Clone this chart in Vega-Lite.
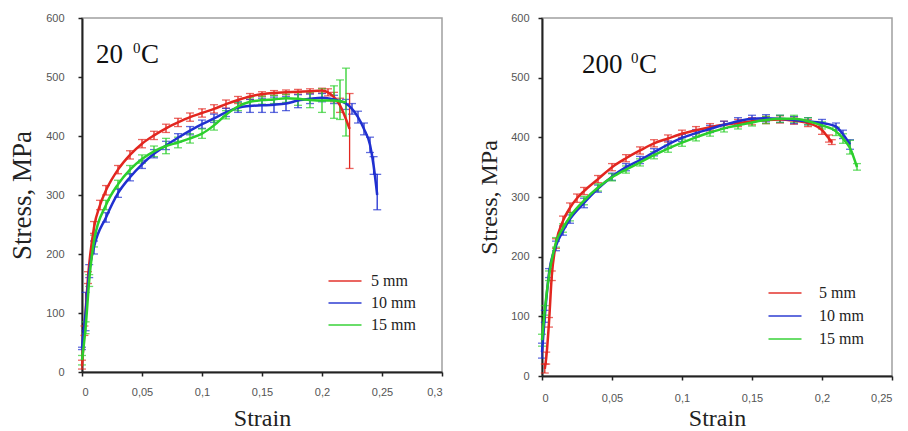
{
  "$schema": "https://vega.github.io/schema/vega-lite/v6.json",
  "autosize": {"type": "pad"},
  "padding": {"left": 7, "top": 11, "right": 5, "bottom": 0},
  "bounds": "flush",
  "spacing": 100,
  "background": "white",
  "config": {
    "view": {"stroke": "#a0a0a0", "strokeWidth": 1.5},
    "axis": {"domainColor": "#222", "domainWidth": 2, "tickColor": "#222", "tickSize": 4, "tickWidth": 1.5, "labelColor": "#555", "labelFontSize": 11, "labelFont": "Liberation Sans", "titleFont": "Liberation Serif", "titleFontSize": 24, "titleFontWeight": "normal", "titleColor": "#222", "grid": false},
    "legend": {"labelFont": "Liberation Serif", "labelFontSize": 16, "labelColor": "#222"}
  },
  "resolve": {"scale": {"color": "independent"}, "legend": {"color": "independent"}},
  "datasets": {
    "t20": [
      {"s":"5 mm","x":0,"y":10,"lo":5,"hi":20},
      {"s":"5 mm","x":0.002,"y":70,"lo":62,"hi":78},
      {"s":"5 mm","x":0.005,"y":160,"lo":150,"hi":170},
      {"s":"5 mm","x":0.01,"y":245,"lo":235,"hi":255},
      {"s":"5 mm","x":0.015,"y":283,"lo":275,"hi":291},
      {"s":"5 mm","x":0.02,"y":308,"lo":300,"hi":316},
      {"s":"5 mm","x":0.03,"y":343,"lo":336,"hi":350},
      {"s":"5 mm","x":0.04,"y":368,"lo":361,"hi":375},
      {"s":"5 mm","x":0.05,"y":387,"lo":380,"hi":394},
      {"s":"5 mm","x":0.06,"y":401,"lo":394,"hi":408},
      {"s":"5 mm","x":0.07,"y":413,"lo":406,"hi":420},
      {"s":"5 mm","x":0.08,"y":423,"lo":416,"hi":430},
      {"s":"5 mm","x":0.09,"y":432,"lo":425,"hi":439},
      {"s":"5 mm","x":0.1,"y":439,"lo":432,"hi":446},
      {"s":"5 mm","x":0.11,"y":446,"lo":439,"hi":453},
      {"s":"5 mm","x":0.12,"y":454,"lo":447,"hi":461},
      {"s":"5 mm","x":0.13,"y":461,"lo":455,"hi":467},
      {"s":"5 mm","x":0.14,"y":467,"lo":462,"hi":472},
      {"s":"5 mm","x":0.15,"y":471,"lo":467,"hi":475},
      {"s":"5 mm","x":0.16,"y":473,"lo":469,"hi":477},
      {"s":"5 mm","x":0.17,"y":474,"lo":470,"hi":478},
      {"s":"5 mm","x":0.18,"y":475,"lo":471,"hi":479},
      {"s":"5 mm","x":0.19,"y":476,"lo":472,"hi":480},
      {"s":"5 mm","x":0.2,"y":477,"lo":473,"hi":481},
      {"s":"5 mm","x":0.205,"y":474,"lo":468,"hi":480},
      {"s":"5 mm","x":0.21,"y":466,"lo":458,"hi":474},
      {"s":"5 mm","x":0.215,"y":452,"lo":440,"hi":464},
      {"s":"5 mm","x":0.223,"y":412,"lo":345,"hi":472},
      {"s":"10 mm","x":0,"y":40,"lo":38,"hi":42},
      {"s":"10 mm","x":0.003,"y":100,"lo":70,"hi":135},
      {"s":"10 mm","x":0.006,"y":170,"lo":160,"hi":182},
      {"s":"10 mm","x":0.01,"y":212,"lo":200,"hi":222},
      {"s":"10 mm","x":0.02,"y":262,"lo":254,"hi":270},
      {"s":"10 mm","x":0.03,"y":303,"lo":296,"hi":310},
      {"s":"10 mm","x":0.04,"y":330,"lo":324,"hi":336},
      {"s":"10 mm","x":0.05,"y":352,"lo":345,"hi":359},
      {"s":"10 mm","x":0.06,"y":370,"lo":363,"hi":377},
      {"s":"10 mm","x":0.07,"y":384,"lo":377,"hi":391},
      {"s":"10 mm","x":0.08,"y":397,"lo":390,"hi":404},
      {"s":"10 mm","x":0.09,"y":409,"lo":402,"hi":416},
      {"s":"10 mm","x":0.1,"y":420,"lo":413,"hi":427},
      {"s":"10 mm","x":0.11,"y":430,"lo":423,"hi":437},
      {"s":"10 mm","x":0.12,"y":440,"lo":433,"hi":447},
      {"s":"10 mm","x":0.13,"y":448,"lo":440,"hi":458},
      {"s":"10 mm","x":0.14,"y":451,"lo":440,"hi":462},
      {"s":"10 mm","x":0.15,"y":452,"lo":440,"hi":464},
      {"s":"10 mm","x":0.16,"y":453,"lo":440,"hi":466},
      {"s":"10 mm","x":0.17,"y":455,"lo":443,"hi":467},
      {"s":"10 mm","x":0.18,"y":460,"lo":448,"hi":470},
      {"s":"10 mm","x":0.19,"y":463,"lo":455,"hi":471},
      {"s":"10 mm","x":0.2,"y":465,"lo":458,"hi":472},
      {"s":"10 mm","x":0.21,"y":462,"lo":455,"hi":469},
      {"s":"10 mm","x":0.22,"y":455,"lo":445,"hi":462},
      {"s":"10 mm","x":0.225,"y":446,"lo":437,"hi":455},
      {"s":"10 mm","x":0.23,"y":432,"lo":422,"hi":442},
      {"s":"10 mm","x":0.235,"y":412,"lo":402,"hi":422},
      {"s":"10 mm","x":0.24,"y":385,"lo":372,"hi":398},
      {"s":"10 mm","x":0.243,"y":350,"lo":335,"hi":365},
      {"s":"10 mm","x":0.246,"y":300,"lo":275,"hi":335},
      {"s":"15 mm","x":0,"y":20,"lo":12,"hi":28},
      {"s":"15 mm","x":0.003,"y":75,"lo":65,"hi":85},
      {"s":"15 mm","x":0.006,"y":155,"lo":145,"hi":165},
      {"s":"15 mm","x":0.01,"y":222,"lo":212,"hi":232},
      {"s":"15 mm","x":0.02,"y":283,"lo":275,"hi":291},
      {"s":"15 mm","x":0.03,"y":318,"lo":311,"hi":325},
      {"s":"15 mm","x":0.04,"y":343,"lo":336,"hi":350},
      {"s":"15 mm","x":0.05,"y":361,"lo":354,"hi":368},
      {"s":"15 mm","x":0.06,"y":374,"lo":365,"hi":383},
      {"s":"15 mm","x":0.07,"y":383,"lo":370,"hi":396},
      {"s":"15 mm","x":0.08,"y":389,"lo":380,"hi":398},
      {"s":"15 mm","x":0.09,"y":396,"lo":388,"hi":404},
      {"s":"15 mm","x":0.1,"y":404,"lo":396,"hi":412},
      {"s":"15 mm","x":0.11,"y":418,"lo":410,"hi":426},
      {"s":"15 mm","x":0.12,"y":436,"lo":429,"hi":443},
      {"s":"15 mm","x":0.13,"y":450,"lo":443,"hi":457},
      {"s":"15 mm","x":0.14,"y":458,"lo":451,"hi":465},
      {"s":"15 mm","x":0.15,"y":461,"lo":454,"hi":468},
      {"s":"15 mm","x":0.16,"y":462,"lo":455,"hi":469},
      {"s":"15 mm","x":0.17,"y":464,"lo":457,"hi":471},
      {"s":"15 mm","x":0.18,"y":463,"lo":452,"hi":474},
      {"s":"15 mm","x":0.19,"y":461,"lo":448,"hi":474},
      {"s":"15 mm","x":0.2,"y":460,"lo":440,"hi":480},
      {"s":"15 mm","x":0.21,"y":460,"lo":430,"hi":485},
      {"s":"15 mm","x":0.215,"y":459,"lo":428,"hi":495},
      {"s":"15 mm","x":0.22,"y":457,"lo":400,"hi":515}
    ],
    "t200": [
      {"s":"5 mm","x":0.002,"y":12,"lo":5,"hi":20},
      {"s":"5 mm","x":0.003,"y":30,"lo":20,"hi":40},
      {"s":"5 mm","x":0.005,"y":90,"lo":82,"hi":98},
      {"s":"5 mm","x":0.007,"y":168,"lo":160,"hi":176},
      {"s":"5 mm","x":0.01,"y":222,"lo":214,"hi":230},
      {"s":"5 mm","x":0.015,"y":260,"lo":252,"hi":268},
      {"s":"5 mm","x":0.02,"y":282,"lo":274,"hi":290},
      {"s":"5 mm","x":0.025,"y":298,"lo":291,"hi":305},
      {"s":"5 mm","x":0.03,"y":310,"lo":304,"hi":316},
      {"s":"5 mm","x":0.04,"y":330,"lo":324,"hi":336},
      {"s":"5 mm","x":0.05,"y":350,"lo":344,"hi":356},
      {"s":"5 mm","x":0.06,"y":365,"lo":359,"hi":371},
      {"s":"5 mm","x":0.07,"y":378,"lo":372,"hi":384},
      {"s":"5 mm","x":0.08,"y":390,"lo":384,"hi":396},
      {"s":"5 mm","x":0.09,"y":398,"lo":392,"hi":404},
      {"s":"5 mm","x":0.1,"y":406,"lo":400,"hi":412},
      {"s":"5 mm","x":0.11,"y":412,"lo":406,"hi":418},
      {"s":"5 mm","x":0.12,"y":417,"lo":411,"hi":423},
      {"s":"5 mm","x":0.13,"y":421,"lo":415,"hi":427},
      {"s":"5 mm","x":0.14,"y":424,"lo":418,"hi":430},
      {"s":"5 mm","x":0.15,"y":427,"lo":421,"hi":433},
      {"s":"5 mm","x":0.16,"y":429,"lo":423,"hi":435},
      {"s":"5 mm","x":0.17,"y":430,"lo":424,"hi":436},
      {"s":"5 mm","x":0.18,"y":428,"lo":422,"hi":434},
      {"s":"5 mm","x":0.19,"y":424,"lo":418,"hi":430},
      {"s":"5 mm","x":0.2,"y":412,"lo":405,"hi":419},
      {"s":"5 mm","x":0.205,"y":398,"lo":392,"hi":404},
      {"s":"5 mm","x":0.207,"y":392,"lo":388,"hi":396},
      {"s":"10 mm","x":0,"y":40,"lo":30,"hi":55},
      {"s":"10 mm","x":0.002,"y":100,"lo":90,"hi":110},
      {"s":"10 mm","x":0.005,"y":172,"lo":165,"hi":180},
      {"s":"10 mm","x":0.01,"y":218,"lo":210,"hi":226},
      {"s":"10 mm","x":0.015,"y":243,"lo":236,"hi":250},
      {"s":"10 mm","x":0.02,"y":263,"lo":256,"hi":270},
      {"s":"10 mm","x":0.03,"y":290,"lo":282,"hi":298},
      {"s":"10 mm","x":0.04,"y":314,"lo":308,"hi":320},
      {"s":"10 mm","x":0.05,"y":334,"lo":328,"hi":340},
      {"s":"10 mm","x":0.06,"y":350,"lo":344,"hi":356},
      {"s":"10 mm","x":0.07,"y":362,"lo":356,"hi":368},
      {"s":"10 mm","x":0.08,"y":375,"lo":369,"hi":381},
      {"s":"10 mm","x":0.09,"y":388,"lo":382,"hi":394},
      {"s":"10 mm","x":0.1,"y":399,"lo":393,"hi":405},
      {"s":"10 mm","x":0.11,"y":407,"lo":401,"hi":413},
      {"s":"10 mm","x":0.12,"y":414,"lo":408,"hi":420},
      {"s":"10 mm","x":0.13,"y":421,"lo":415,"hi":427},
      {"s":"10 mm","x":0.14,"y":427,"lo":421,"hi":433},
      {"s":"10 mm","x":0.15,"y":431,"lo":425,"hi":437},
      {"s":"10 mm","x":0.16,"y":432,"lo":426,"hi":438},
      {"s":"10 mm","x":0.17,"y":431,"lo":425,"hi":437},
      {"s":"10 mm","x":0.18,"y":429,"lo":423,"hi":435},
      {"s":"10 mm","x":0.19,"y":427,"lo":421,"hi":433},
      {"s":"10 mm","x":0.2,"y":424,"lo":418,"hi":430},
      {"s":"10 mm","x":0.21,"y":418,"lo":412,"hi":424},
      {"s":"10 mm","x":0.215,"y":405,"lo":398,"hi":412},
      {"s":"10 mm","x":0.22,"y":388,"lo":380,"hi":396},
      {"s":"15 mm","x":0,"y":60,"lo":50,"hi":70},
      {"s":"15 mm","x":0.002,"y":110,"lo":102,"hi":118},
      {"s":"15 mm","x":0.005,"y":168,"lo":160,"hi":176},
      {"s":"15 mm","x":0.01,"y":224,"lo":216,"hi":232},
      {"s":"15 mm","x":0.015,"y":248,"lo":241,"hi":255},
      {"s":"15 mm","x":0.02,"y":267,"lo":260,"hi":274},
      {"s":"15 mm","x":0.03,"y":294,"lo":287,"hi":301},
      {"s":"15 mm","x":0.04,"y":316,"lo":310,"hi":322},
      {"s":"15 mm","x":0.05,"y":333,"lo":327,"hi":339},
      {"s":"15 mm","x":0.06,"y":346,"lo":340,"hi":352},
      {"s":"15 mm","x":0.07,"y":358,"lo":352,"hi":364},
      {"s":"15 mm","x":0.08,"y":370,"lo":364,"hi":376},
      {"s":"15 mm","x":0.09,"y":381,"lo":375,"hi":387},
      {"s":"15 mm","x":0.1,"y":391,"lo":385,"hi":397},
      {"s":"15 mm","x":0.11,"y":400,"lo":394,"hi":406},
      {"s":"15 mm","x":0.12,"y":408,"lo":402,"hi":414},
      {"s":"15 mm","x":0.13,"y":415,"lo":409,"hi":421},
      {"s":"15 mm","x":0.14,"y":420,"lo":414,"hi":426},
      {"s":"15 mm","x":0.15,"y":425,"lo":419,"hi":431},
      {"s":"15 mm","x":0.16,"y":429,"lo":423,"hi":435},
      {"s":"15 mm","x":0.17,"y":431,"lo":425,"hi":437},
      {"s":"15 mm","x":0.18,"y":431,"lo":425,"hi":437},
      {"s":"15 mm","x":0.19,"y":427,"lo":421,"hi":433},
      {"s":"15 mm","x":0.2,"y":420,"lo":414,"hi":426},
      {"s":"15 mm","x":0.21,"y":410,"lo":403,"hi":417},
      {"s":"15 mm","x":0.215,"y":398,"lo":390,"hi":406},
      {"s":"15 mm","x":0.22,"y":382,"lo":372,"hi":395},
      {"s":"15 mm","x":0.225,"y":350,"lo":345,"hi":356}
    ]
  },
  "hconcat": [
    {
      "width": 360,
      "height": 354,
      "layer": [
        {
          "data": {"name": "t20"},
          "mark": {"type": "errorbar", "ticks": {"size": 8}, "thickness": 1.3},
          "encoding": {
            "x": {"field": "x", "type": "quantitative", "scale": {"domain": [0, 0.3], "nice": false}, "title": "Strain"},
            "y": {"field": "lo", "type": "quantitative", "scale": {"domain": [0, 600], "nice": false}, "title": "Stress, MPa"},
            "y2": {"field": "hi"},
            "color": {"field": "s", "type": "nominal", "scale": {"domain": ["5 mm", "10 mm", "15 mm"], "range": ["#e2261f", "#2030d0", "#2ccf2c"]},
              "legend": {"orient": "none", "legendX": 251, "legendY": 251, "title": null, "symbolType": "M-1.5,0H1.5", "symbolSize": 484, "symbolStrokeWidth": 2, "labelFont": "Liberation Serif", "labelFontSize": 16, "labelColor": "#222", "labelOffset": 14, "rowPadding": 2}}
          }
        },
        {
          "data": {"name": "t20"},
          "mark": {"type": "line", "strokeWidth": 2.5, "interpolate": "monotone"},
          "encoding": {
            "x": {"field": "x", "type": "quantitative", "scale": {"domain": [0, 0.3], "nice": false}, "title": "Strain",
              "axis": {"values": [0, 0.05, 0.1, 0.15, 0.2, 0.25, 0.3], "format": ".2~f", "labelExpr": "replace(datum.label, '.', ',')", "labelPadding": 10, "titlePadding": 9, "titleFontSize": 24}},
            "y": {"field": "y", "type": "quantitative", "scale": {"domain": [0, 600], "nice": false}, "title": "Stress, MPa",
              "axis": {"values": [0, 100, 200, 300, 400, 500, 600], "labelPadding": 14, "titlePadding": 9, "titleFontSize": 27}},
            "color": {"field": "s", "type": "nominal", "scale": {"domain": ["5 mm", "10 mm", "15 mm"], "range": ["#e2261f", "#2030d0", "#2ccf2c"]},
              "legend": {"orient": "none", "legendX": 251, "legendY": 251, "title": null, "symbolType": "M-1.5,0H1.5", "symbolSize": 484, "symbolStrokeWidth": 2, "labelFont": "Liberation Serif", "labelFontSize": 16, "labelColor": "#222", "labelOffset": 14, "rowPadding": 2}}
          }
        },
        {
          "data": {"values": [{"x": 0.0117, "y": 524, "a": "20", "b": "0", "c": "C"}]},
          "encoding": {
            "x": {"field": "x", "type": "quantitative"},
            "y": {"field": "y", "type": "quantitative"}
          },
          "layer": [
            {"mark": {"type": "text", "font": "Liberation Serif", "fontSize": 27, "align": "left", "baseline": "alphabetic", "color": "#111"}, "encoding": {"text": {"field": "a"}}},
            {"mark": {"type": "text", "font": "Liberation Serif", "fontSize": 15, "align": "left", "baseline": "alphabetic", "color": "#111", "dx": 37, "dy": -10}, "encoding": {"text": {"field": "b"}}},
            {"mark": {"type": "text", "font": "Liberation Serif", "fontSize": 27, "align": "left", "baseline": "alphabetic", "color": "#111", "dx": 45}, "encoding": {"text": {"field": "c"}}}
          ]
        }
      ]
    },
    {
      "width": 350,
      "height": 358,
      "layer": [
        {
          "data": {"name": "t200"},
          "mark": {"type": "errorbar", "ticks": {"size": 8}, "thickness": 1.3},
          "encoding": {
            "x": {"field": "x", "type": "quantitative", "scale": {"domain": [0, 0.25], "nice": false}, "title": "Strain"},
            "y": {"field": "lo", "type": "quantitative", "scale": {"domain": [0, 600], "nice": false}, "title": "Stress, MPa"},
            "y2": {"field": "hi"},
            "color": {"field": "s", "type": "nominal", "scale": {"domain": ["5 mm", "10 mm", "15 mm"], "range": ["#e2261f", "#2030d0", "#2ccf2c"]},
              "legend": {"orient": "none", "legendX": 231, "legendY": 263, "title": null, "symbolType": "M-1.5,0H1.5", "symbolSize": 484, "symbolStrokeWidth": 2, "labelFont": "Liberation Serif", "labelFontSize": 16, "labelColor": "#222", "labelOffset": 22, "rowPadding": 3}}
          }
        },
        {
          "data": {"name": "t200"},
          "mark": {"type": "line", "strokeWidth": 2.5, "interpolate": "monotone"},
          "encoding": {
            "x": {"field": "x", "type": "quantitative", "scale": {"domain": [0, 0.25], "nice": false}, "title": "Strain",
              "axis": {"values": [0, 0.05, 0.1, 0.15, 0.2, 0.25], "format": ".2~f", "labelExpr": "replace(datum.label, '.', ',')", "labelPadding": 12, "titlePadding": 3, "titleFontSize": 24}},
            "y": {"field": "y", "type": "quantitative", "scale": {"domain": [0, 600], "nice": false}, "title": "Stress, MPa",
              "axis": {"values": [0, 100, 200, 300, 400, 500, 600], "labelPadding": 9, "titlePadding": 9, "titleFontSize": 24}},
            "color": {"field": "s", "type": "nominal", "scale": {"domain": ["5 mm", "10 mm", "15 mm"], "range": ["#e2261f", "#2030d0", "#2ccf2c"]},
              "legend": {"orient": "none", "legendX": 231, "legendY": 263, "title": null, "symbolType": "M-1.5,0H1.5", "symbolSize": 484, "symbolStrokeWidth": 2, "labelFont": "Liberation Serif", "labelFontSize": 16, "labelColor": "#222", "labelOffset": 22, "rowPadding": 3}}
          }
        },
        {
          "data": {"values": [{"x": 0.0286, "y": 507, "a": "200", "b": "0", "c": "C"}]},
          "encoding": {
            "x": {"field": "x", "type": "quantitative"},
            "y": {"field": "y", "type": "quantitative"}
          },
          "layer": [
            {"mark": {"type": "text", "font": "Liberation Serif", "fontSize": 27, "align": "left", "baseline": "alphabetic", "color": "#111"}, "encoding": {"text": {"field": "a"}}},
            {"mark": {"type": "text", "font": "Liberation Serif", "fontSize": 15, "align": "left", "baseline": "alphabetic", "color": "#111", "dx": 49, "dy": -10}, "encoding": {"text": {"field": "b"}}},
            {"mark": {"type": "text", "font": "Liberation Serif", "fontSize": 27, "align": "left", "baseline": "alphabetic", "color": "#111", "dx": 57}, "encoding": {"text": {"field": "c"}}}
          ]
        }
      ]
    }
  ]
}
